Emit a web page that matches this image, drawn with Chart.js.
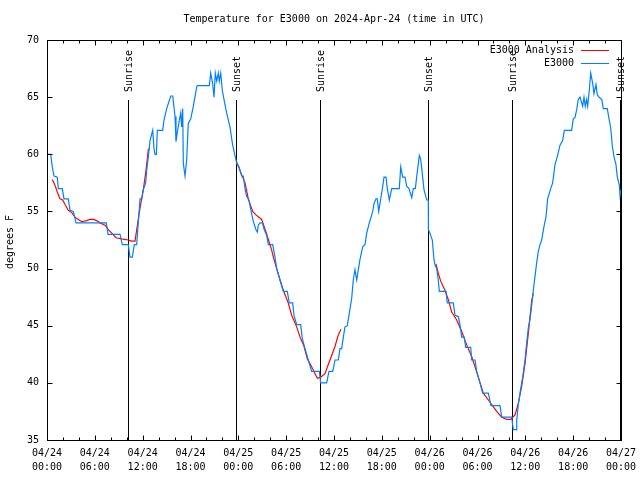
<!DOCTYPE html>
<html>
<head>
<meta charset="utf-8">
<script src="https://cdn.jsdelivr.net/npm/chart.js@4/dist/chart.umd.min.js"></script>
<style>
    html, body { margin: 0; padding: 0; background: #fff; }
    #wrap { width: 640px; height: 480px; }
</style>
</head>
<body>
<div id="wrap"><canvas id="temp-chart" width="640" height="480"></canvas></div>
<script>
// hours since 04/24 00:00 UTC
const e3000Hours = [
    0, 0.46, 0.66, 0.88, 1.29, 1.42, 1.92, 2.13, 2.67, 2.89, 3.30, 3.64, 7.44, 7.65, 9.16, 9.45,
    10.20, 10.41, 10.70, 10.95, 11.25, 11.38, 11.67, 11.88, 12.08, 12.38, 12.51, 12.71, 12.92, 13.26,
    13.42, 13.55, 13.72, 13.84, 14.51, 14.68, 15.01, 15.52, 15.77, 16.06, 16.18, 16.34, 16.60, 16.77,
    16.89, 17.02, 17.10, 17.31, 17.52, 17.72, 18.03, 18.35, 18.78, 18.85, 20.36, 20.53, 20.78, 20.95,
    21.11, 21.29, 21.49, 21.61, 21.79, 21.99, 22.20, 22.54, 22.95, 23.29, 23.58, 23.80, 24.08, 24.42,
    24.62, 24.84, 25.05, 25.33, 25.58, 25.88, 26.21, 26.38, 26.51, 26.72, 27.01, 27.26, 27.56, 27.76,
    28.31, 28.60, 28.81, 29.23, 29.64, 30.14, 30.39, 30.82, 30.98, 31.32, 31.82, 32.02, 32.36, 32.78,
    33.20, 34.16, 34.33, 35.08, 35.37, 35.84, 36.13, 36.54, 36.75, 36.96, 37.17, 37.38, 37.67, 37.92,
    38.22, 38.42, 38.63, 38.85, 39.05, 39.26, 39.60, 39.89, 40.10, 40.43, 40.86, 41.02, 41.27, 41.43,
    41.61, 41.86, 42.11, 42.27, 42.52, 42.69, 42.94, 43.24, 44.19, 44.37, 44.62, 44.91, 45.12, 45.41,
    45.75, 45.95, 46.20, 46.37, 46.70, 46.87, 47.12, 47.29, 47.63, 47.83, 47.84, 48.04, 48.33, 48.54,
    48.67, 48.88, 49.08, 49.21, 50.05, 50.21, 50.96, 51.18, 51.59, 51.80, 52.02, 52.34, 52.52, 53.15,
    53.27, 53.69, 53.90, 54.31, 54.65, 55.36, 55.69, 56.82, 57.04, 58.29, 58.49, 58.83, 58.92, 59.12,
    59.33, 59.67, 59.96, 60.17, 60.37, 60.59, 60.80, 61.00, 61.21, 61.42, 61.63, 61.84, 62.05, 62.34,
    62.59, 62.80, 63.18, 63.43, 63.72, 64.01, 64.35, 64.68, 64.89, 65.81, 66.01, 66.23, 66.44, 66.64,
    66.86, 67.19, 67.36, 67.52, 67.69, 67.82, 68.02, 68.20, 68.45, 68.61, 68.86, 69.03, 69.24, 69.58,
    69.78, 70.28, 70.50, 70.71, 70.91, 71.12, 71.37, 71.54, 71.79, 71.88, 72.0,
];
const e3000Temps = [
    60.0, 60.0, 58.9, 58.1, 58.0, 57.0, 57.0, 56.1, 56.1, 55.1, 55.0, 54.0, 54.0, 53.0, 53.0, 52.1,
    52.1, 51.0, 51.0, 52.1, 52.1, 53.4, 56.1, 56.1, 56.9, 57.5, 58.6, 59.8, 61.2, 62.1,
    60.5, 60.0, 60.0, 62.1, 62.1, 63.0, 64.0, 65.1, 65.1, 63.3, 61.1, 61.9, 63.0, 63.6,
    62.4, 64.0, 59.2, 58.1, 59.5, 62.7, 63.1, 64.2, 65.9, 66.0, 66.0, 67.1, 66.2, 65.0,
    67.1, 66.4, 67.1, 66.4, 67.1, 65.6, 64.8, 63.6, 62.4, 60.8, 59.9, 59.2, 58.9, 58.1,
    58.1, 57.0, 56.3, 56.0, 55.1, 54.1, 53.4, 53.2, 53.8, 54.0, 54.0, 53.4, 52.9, 52.1,
    52.1, 51.0, 50.0, 49.0, 48.0, 48.0, 47.0, 47.0, 45.9, 45.1, 45.1, 43.9, 43.0, 42.0,
    41.0, 41.0, 40.0, 40.0, 41.0, 41.0, 42.0, 42.0, 43.0, 43.0, 44.0, 44.9, 45.0, 46.1,
    47.4, 49.0, 49.9, 49.0, 49.9, 50.8, 51.9, 52.1, 53.1, 54.0, 55.0, 55.7, 56.1, 56.1,
    55.0, 56.1, 57.2, 58.0, 58.0, 57.0, 56.0, 57.0, 57.0, 58.9, 58.0, 58.0, 57.2, 57.0,
    56.2, 57.0, 57.0, 58.0, 59.9, 59.6, 58.0, 56.9, 56.0, 56.0, 53.4, 53.1, 52.5, 50.8,
    50.3, 50.0, 49.0, 48.0, 48.0, 47.0, 47.0, 45.9, 45.8, 45.1, 44.0, 44.0, 43.1, 43.1,
    42.0, 42.0, 41.0, 40.0, 39.1, 39.1, 38.0, 38.0, 37.0, 37.0, 35.9, 35.9, 36.7, 38.1,
    39.1, 40.5, 42.0, 43.5, 44.8, 45.6, 46.8, 48.1, 49.3, 50.5, 51.5, 52.1, 52.5, 53.7,
    54.5, 56.1, 57.0, 57.5, 59.1, 59.8, 60.8, 61.2, 62.1, 62.1, 63.1, 63.2, 63.9, 64.8,
    65.0, 64.2, 65.0, 64.2, 64.8, 64.2, 65.6, 67.1, 66.2, 65.3, 66.1, 65.2, 65.0, 64.8,
    64.0, 64.0, 63.1, 62.3, 60.7, 59.8, 59.1, 58.0, 57.3, 56.4, 56.9,
];

// analysis curve, null = gap between runs
const analysisHours = [
    0.66, 1.00, 1.29, 1.63, 1.97, 2.26, 2.67, 3.10, 3.51, 3.93, 4.35, 4.98, 5.39, 5.81, 6.23, 6.65,
    7.28, 7.69, 8.12, 8.66, 9.37, 10.20, 10.62, 11.04, 11.25, 11.67, 12.08, 12.42, 12.71, 12.92,
    18.0,
    23.80, 24.42, 24.84, 25.25, 25.80, 26.21, 26.93, 27.56, 28.19, 28.39, 28.81, 29.23, 29.64, 30.26,
    30.70, 31.32, 31.74, 32.24, 32.65, 33.20, 33.62, 33.91, 34.33, 34.87, 35.28, 35.71, 36.13, 36.54,
    36.88,
    42.0,
    48.79, 49.08, 49.38, 49.92, 50.33, 50.76, 51.39, 52.02, 52.65, 53.27, 53.69, 54.10, 54.73, 55.36,
    55.78, 56.41, 57.04, 57.66, 58.17, 58.70, 59.12, 59.54, 59.96, 60.37, 60.80, 61.00,
];
const analysisTemps = [
    57.8, 57.3, 56.7, 56.1, 56.0, 55.6, 55.1, 54.9, 54.5, 54.3, 54.1, 54.2, 54.3, 54.3, 54.2, 54.0,
    53.8, 53.4, 53.1, 52.7, 52.6, 52.5, 52.4, 52.4, 53.4, 55.3, 56.9, 58.6, 60.4, 60.5,
    null,
    59.3, 58.2, 57.5, 56.1, 55.0, 54.7, 54.3, 53.0, 51.6, 51.0, 50.0, 49.0, 48.1, 47.0,
    45.9, 44.9, 44.0, 43.2, 42.1, 41.4, 40.8, 40.4, 40.5, 40.8, 41.6, 42.4, 43.2, 44.2,
    44.7,
    null,
    50.4, 49.6, 48.9, 48.1, 47.3, 46.2, 45.5, 44.5, 43.3, 42.3, 41.4, 40.5, 39.1, 38.5,
    38.1, 37.5, 37.0, 36.8, 36.8, 37.2, 38.2, 39.7, 41.7, 44.3, 47.2, 47.8,
];

const sunHours = [10.2, 23.75, 34.25, 47.83, 58.3, 71.92];
const sunLabels = ['Sunrise', 'Sunset', 'Sunrise', 'Sunset', 'Sunrise', 'Sunset'];

const tickDays = ['04/24', '04/24', '04/24', '04/24', '04/25', '04/25', '04/25', '04/25',
    '04/26', '04/26', '04/26', '04/26', '04/27'];
const tickTimes = ['00:00', '06:00', '12:00', '18:00', '00:00', '06:00', '12:00', '18:00',
    '00:00', '06:00', '12:00', '18:00', '00:00'];

const FONT = 'DejaVu Sans Mono';
const BLUE = 'rgb(0, 128, 255)';
const RED = 'rgb(255, 0, 0)';

function toPoints(xs, ys) {
    return xs.map((x, i) => ({ x, y: ys[i] }));
}

function line(ctx, x1, y1, x2, y2) {
    ctx.beginPath();
    ctx.moveTo(x1, y1);
    ctx.lineTo(x2, y2);
    ctx.stroke();
}

// gnuplot-ish decorations: frame, inward tics, sun markers, legend, titles
const gnuplotDecor = {
    id: 'gnuplotDecor',
    beforeDatasetsDraw(chart) {
        const { ctx, chartArea: a, scales } = chart;
        ctx.save();
        ctx.strokeStyle = '#000';
        ctx.lineWidth = 1;
        ctx.fillStyle = '#000';
        ctx.font = `10px "${FONT}"`;
        ctx.textBaseline = 'middle';
        ctx.textAlign = 'left';
        sunHours.forEach((h, i) => {
            const x = Math.round(scales.x.getPixelForValue(h)) + 0.5;
            line(ctx, x, 100, x, a.bottom);
            ctx.save();
            ctx.translate(x + 1, 92);
            ctx.rotate(-Math.PI / 2);
            ctx.fillText(sunLabels[i], 0, 0);
            ctx.restore();
        });
        ctx.restore();
    },
    afterDraw(chart) {
        const { ctx, chartArea: a, scales } = chart;
        ctx.save();
        ctx.strokeStyle = '#000';
        ctx.lineWidth = 1;
        const L = a.left + 0.5, R = a.right + 0.5, T = a.top + 0.5, B = a.bottom + 0.5;
        ctx.strokeRect(L, T, R - L, B - T);

        for (let v = 35; v <= 70; v += 5) {
            const y = Math.round(scales.y.getPixelForValue(v)) + 0.5;
            line(ctx, L, y, L + 5, y);
            line(ctx, R - 5, y, R, y);
        }
        for (let h = 0; h <= 72; h += 2) {
            const x = Math.round(scales.x.getPixelForValue(h)) + 0.5;
            const len = h % 6 === 0 ? 5 : 3;
            line(ctx, x, B, x, B - len);
            line(ctx, x, T, x, T + len);
        }

        ctx.fillStyle = '#000';
        ctx.font = `10px "${FONT}"`;
        ctx.textBaseline = 'middle';
        ctx.textAlign = 'center';
        ctx.fillText('Temperature for E3000 on 2024-Apr-24 (time in UTC)', (a.left + a.right) / 2, 19);

        ctx.save();
        ctx.translate(10, 242);
        ctx.rotate(-Math.PI / 2);
        ctx.fillText('degrees F', 0, 0);
        ctx.restore();

        ctx.textAlign = 'right';
        ctx.fillText('E3000 Analysis', 574, 50);
        ctx.fillText('E3000', 574, 63);
        ctx.strokeStyle = RED;
        line(ctx, 581, 50.5, 609, 50.5);
        ctx.strokeStyle = BLUE;
        line(ctx, 581, 63.5, 609, 63.5);
        ctx.restore();
    },
};

new Chart(document.getElementById('temp-chart').getContext('2d'), {
    type: 'line',
    data: {
        datasets: [
            {
                label: 'E3000',
                data: toPoints(e3000Hours, e3000Temps),
                borderColor: BLUE,
                borderWidth: 1.2,
                pointRadius: 0,
                tension: 0,
            },
            {
                label: 'E3000 Analysis',
                data: toPoints(analysisHours, analysisTemps),
                borderColor: RED,
                borderWidth: 1.2,
                pointRadius: 0,
                tension: 0,
                spanGaps: false,
            },
        ],
    },
    options: {
        responsive: false,
        animation: false,
        layout: { padding: { top: 40, right: 19, left: 0, bottom: 0 } },
        plugins: {
            legend: { display: false },
            tooltip: { enabled: false },
        },
        scales: {
            x: {
                type: 'linear',
                min: 0,
                max: 72,
                grid: { display: false, drawTicks: false },
                border: { display: false },
                ticks: {
                    stepSize: 6,
                    autoSkip: false,
                    maxRotation: 0,
                    padding: 6,
                    color: '#000',
                    font: { family: FONT, size: 10, lineHeight: 1.4 },
                    callback: (v, i) => [tickDays[i], tickTimes[i]],
                },
                afterFit: (s) => {
                    s.height = 40;
                    s.paddingLeft = 0;
                    s.paddingRight = 0;
                },
            },
            y: {
                min: 35,
                max: 70,
                grid: { display: false, drawTicks: false },
                border: { display: false },
                ticks: {
                    stepSize: 5,
                    padding: 8,
                    color: '#000',
                    font: { family: FONT, size: 10 },
                },
                afterFit: (s) => {
                    s.width = 47;
                    s.paddingTop = 0;
                    s.paddingBottom = 0;
                },
            },
        },
    },
    plugins: [gnuplotDecor],
});
</script>
</body>
</html>
